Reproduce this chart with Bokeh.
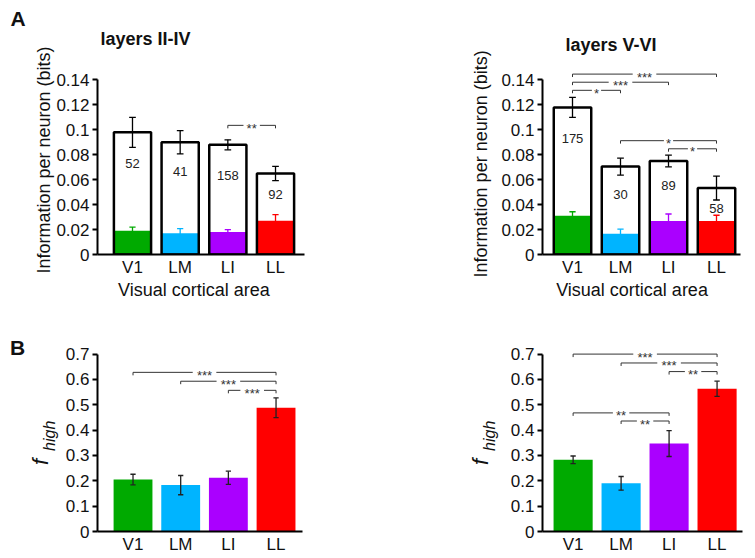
from bokeh.plotting import figure
from bokeh.models import Range1d, FixedTicker, NumeralTickFormatter, Div
from bokeh.layouts import column, row
from bokeh.core.properties import value
from bokeh.embed import file_html
from bokeh.resources import INLINE

FONT = "Liberation Sans"

# ---------------- data ----------------
areas = ["V1", "LM", "LI", "LL"]
area_colors = ["#00AA00", "#00B4FF", "#AA00FF", "#FF0000"]

info_ticks = [0, 0.02, 0.04, 0.06, 0.08, 0.1, 0.12, 0.14]
fhigh_ticks = [0, 0.1, 0.2, 0.3, 0.4, 0.5, 0.6, 0.7]

# Panel A, layers II-IV
info_total_sup = [0.098, 0.090, 0.088, 0.065]
info_total_err_sup = [0.012, 0.0093, 0.004, 0.0057]
info_high_sup = [0.019, 0.017, 0.018, 0.027]
info_high_err_sup = [0.003, 0.0037, 0.002, 0.005]
n_neurons_sup = [52, 41, 158, 92]
sig_info_sup = [("LI", "LL", "**", 0.1036)]

# Panel A, layers V-VI
info_total_deep = [0.118, 0.0705, 0.075, 0.0533]
info_total_err_deep = [0.008, 0.0068, 0.0047, 0.0096]
info_high_deep = [0.031, 0.0167, 0.0268, 0.0268]
info_high_err_deep = [0.0033, 0.0036, 0.0057, 0.0047]
n_neurons_deep = [175, 30, 89, 58]
sig_info_deep = [("V1", "LL", "***", 0.1447), ("V1", "LI", "***", 0.1382),
                 ("V1", "LM", "*", 0.1317), ("LM", "LL", "*", 0.0913),
                 ("LI", "LL", "*", 0.0848)]

# Panel B, layers II-IV
fhigh_sup = [0.205, 0.183, 0.212, 0.488]
fhigh_err_sup = [0.021, 0.038, 0.026, 0.039]
sig_fhigh_sup = [("V1", "LL", "***", 0.628), ("LM", "LL", "***", 0.593),
                 ("LI", "LL", "***", 0.557)]

# Panel B, layers V-VI
fhigh_deep = [0.283, 0.19, 0.347, 0.563]
fhigh_err_deep = [0.015, 0.027, 0.051, 0.030]
sig_fhigh_deep = [("V1", "LL", "***", 0.700), ("LM", "LL", "***", 0.665),
                  ("LI", "LL", "**", 0.631), ("V1", "LI", "**", 0.468),
                  ("LM", "LI", "**", 0.436)]

# label positions (annotation placement, in data units of each panel)
n_label_y_sup = [0.0727, 0.0664, 0.0635, 0.048]
n_label_y_deep = [0.0932, 0.0481, 0.0552, 0.0372]

xpos = list(range(len(areas)))


def base_fig(w, h, left, right, top, bottom, xr, yr, yticks, ybounds):
    p = figure(width=w, height=h, x_range=Range1d(*xr), y_range=Range1d(*yr),
               output_backend="svg", toolbar_location=None,
               min_border_left=left, min_border_right=right,
               min_border_top=top, min_border_bottom=bottom)
    p.xgrid.visible = False
    p.ygrid.visible = False
    p.outline_line_color = None
    p.background_fill_color = "white"
    p.border_fill_color = "white"
    # x axis
    p.xaxis.ticker = FixedTicker(ticks=xpos)
    p.xaxis.major_label_overrides = {i: a for i, a in zip(xpos, areas)}
    p.xaxis.major_tick_out = 0
    p.xaxis.major_tick_in = 0
    p.xaxis.minor_tick_out = 0
    p.xaxis.minor_tick_in = 0
    p.xaxis.axis_line_width = 2
    p.xaxis.axis_line_color = "black"
    p.xaxis.major_label_standoff = 3
    p.xaxis.major_label_text_font_size = "17px"
    p.xaxis.major_label_text_font = FONT
    p.xaxis.major_label_text_color = "#111"
    # y axis
    p.yaxis.ticker = FixedTicker(ticks=yticks)
    p.yaxis.formatter = NumeralTickFormatter(format="0.[00]")
    p.yaxis.bounds = ybounds
    p.yaxis.axis_line_width = 2
    p.yaxis.axis_line_color = "black"
    p.yaxis.major_tick_line_width = 2
    p.yaxis.major_tick_out = 5
    p.yaxis.major_tick_in = 0
    p.yaxis.minor_tick_out = 0
    p.yaxis.minor_tick_in = 0
    p.yaxis.major_label_standoff = 3
    p.yaxis.major_label_text_font_size = "17px"
    p.yaxis.major_label_text_font = FONT
    p.yaxis.major_label_text_color = "#111"
    return p


def add_text(p, x, y, text, size, style="normal", angle=0, align="left"):
    # text placed on its alphabetic baseline; compensate renderer's drop
    shift = 0.35 * size
    xo, yo = (-shift, 0) if angle else (0, -shift)
    r = p.text(x=[x], y=[y], text=[text], angle=angle, text_align=align,
               text_baseline="alphabetic", x_offset=xo, y_offset=yo,
               text_font=value(FONT), text_font_size=f"{size}px",
               text_font_style=style, text_color="#111")
    r.level = "overlay"


def add_sig(p, sigs, ppu_x, ppu_y):
    x0, y0, x1, y1 = [], [], [], []
    tx, ty, tt = [], [], []
    tick = 3.0 / ppu_y
    for a, b, stars, yv in sigs:
        xa, xb = areas.index(a), areas.index(b)
        mid = (xa + xb) / 2
        hg = (3.6 * len(stars) + 1.0) / ppu_x
        x0 += [xa, mid + hg, xa, xb]
        x1 += [mid - hg, xb, xa, xb]
        y0 += [yv, yv, yv, yv]
        y1 += [yv, yv, yv - tick, yv - tick]
        tx.append(mid)
        ty.append(yv)
        tt.append(stars)
    p.segment(x0=x0, y0=y0, x1=x1, y1=y1, line_color="#333", line_width=1)
    p.text(x=tx, y=ty, text=tt, text_align="center", text_baseline="middle",
           y_offset=3, text_font=value(FONT), text_font_size="13px",
           text_color="#333")


def add_err(p, xs, vals, errs, colors, cap, width):
    lo = [v - e for v, e in zip(vals, errs)]
    hi = [v + e for v, e in zip(vals, errs)]
    p.segment(x0=xs, y0=lo, x1=xs, y1=hi, line_color=colors, line_width=width)
    p.segment(x0=[x - cap for x in xs], y0=hi, x1=[x + cap for x in xs], y1=hi,
              line_color=colors, line_width=width)
    p.segment(x0=[x - cap for x in xs], y0=lo, x1=[x + cap for x in xs], y1=lo,
              line_color=colors, line_width=width)


def info_panel(w, h, borders, xr, total, total_err, high, high_err, nn, ny,
               sigs, ppu_x, ppu_y):
    p = base_fig(w, h, *borders, xr, (0, 0.15), info_ticks, (0, 0.14))
    bw = 0.78
    p.vbar(x=xpos, top=total, width=bw, fill_color="white", line_color=None)
    p.vbar(x=xpos, top=high, width=bw, fill_color=area_colors, line_color=None)
    p.vbar(x=xpos, top=total, width=bw, fill_alpha=0, line_color="black",
           line_width=2.5)
    add_err(p, xpos, high, high_err, area_colors, 0.065, 1.3)
    add_err(p, xpos, total, total_err, ["black"] * 4, 0.07, 1.3)
    p.text(x=xpos, y=ny, text=[str(n) for n in nn], text_align="center",
           text_baseline="middle", text_font=value(FONT),
           text_font_size="13px", text_color="#222")
    add_sig(p, sigs, ppu_x, ppu_y)
    return p


def fhigh_panel(w, h, borders, xr, vals, errs, sigs, ppu_x, ppu_y):
    p = base_fig(w, h, *borders, xr, (0, 0.73), fhigh_ticks, (0, 0.7))
    p.vbar(x=xpos, top=vals, width=0.815, fill_color=area_colors,
           line_color=None)
    add_err(p, xpos, vals, errs, ["#222"] * 4, 0.055, 1.3)
    add_sig(p, sigs, ppu_x, ppu_y)
    return p


def fhigh_label_html(left, top):
    return (
        f'<div style="position:absolute;left:{left}px;top:{top}px;'
        'transform-origin:0 0;transform:rotate(-90deg);white-space:nowrap;'
        f"font-family:'{FONT}';font-style:italic;font-size:22px;"
        'line-height:1;color:#111;">'
        'f<span style="font-size:16px;position:relative;top:7px;'
        'margin-left:8px;">high</span></div>'
    )


def side_div(w, h, inner):
    html = (f'<div style="position:relative;width:{w}px;height:{h}px;'
            f'overflow:visible;">{inner}</div>')
    return Div(text=html, width=w, height=h, margin=(0, 0, 0, 0))


ROT = 1.5708

# ---- top left ----
p1 = info_panel(378, 312, (97, 74, 67, 57), (-0.734, 3.608),
                info_total_sup, info_total_err_sup, info_high_sup,
                info_high_err_sup, n_neurons_sup, n_label_y_sup,
                sig_info_sup, 47.67, 1253)
add_text(p1, -2.559, 0.1836, "A", 21, "bold")
add_text(p1, -0.671, 0.1676, "layers II-IV", 18, "bold")
add_text(p1, -1.72, 0.0758, "Information per neuron (bits)", 18,
         angle=ROT, align="center")
add_text(p1, 1.29, -0.0335, "Visual cortical area", 18, align="center")

# ---- top right ----
p2 = info_panel(375, 312, (164, 13, 62, 58), (-0.625, 3.5),
                info_total_deep, info_total_err_deep, info_high_deep,
                info_high_err_deep, n_neurons_deep, n_label_y_deep,
                sig_info_deep, 48.0, 1280)
add_text(p2, -0.146, 0.1633, "layers V-VI", 18, "bold")
add_text(p2, -1.771, 0.0727, "Information per neuron (bits)", 18,
         angle=ROT, align="center")
add_text(p2, 1.24, -0.0336, "Visual cortical area", 18, align="center")

# ---- bottom row: side strips with the B label and the f_high labels ----
b_html = ('<div style="position:absolute;left:10px;top:25px;'
          f"font-family:'{FONT}';font-weight:bold;font-size:21px;"
          'line-height:1;color:#111;">B</div>')
d_left = side_div(62, 244, b_html + fhigh_label_html(30, 153))

p3 = fhigh_panel(316, 244, (35, 76, 34, 24), (-0.745, 3.555),
                 fhigh_sup, fhigh_err_sup, sig_fhigh_sup, 47.67, 254.8)

d_mid = side_div(122, 244, fhigh_label_html(92, 153))

p4 = fhigh_panel(253, 244, (42, 11, 34, 24), (-0.638, 3.53),
                 fhigh_deep, fhigh_err_deep, sig_fhigh_deep, 47.98, 254.8)

layout = column(row(p1, p2), row(d_left, p3, d_mid, p4))

open("out.html", "w").write(file_html(layout, INLINE))
